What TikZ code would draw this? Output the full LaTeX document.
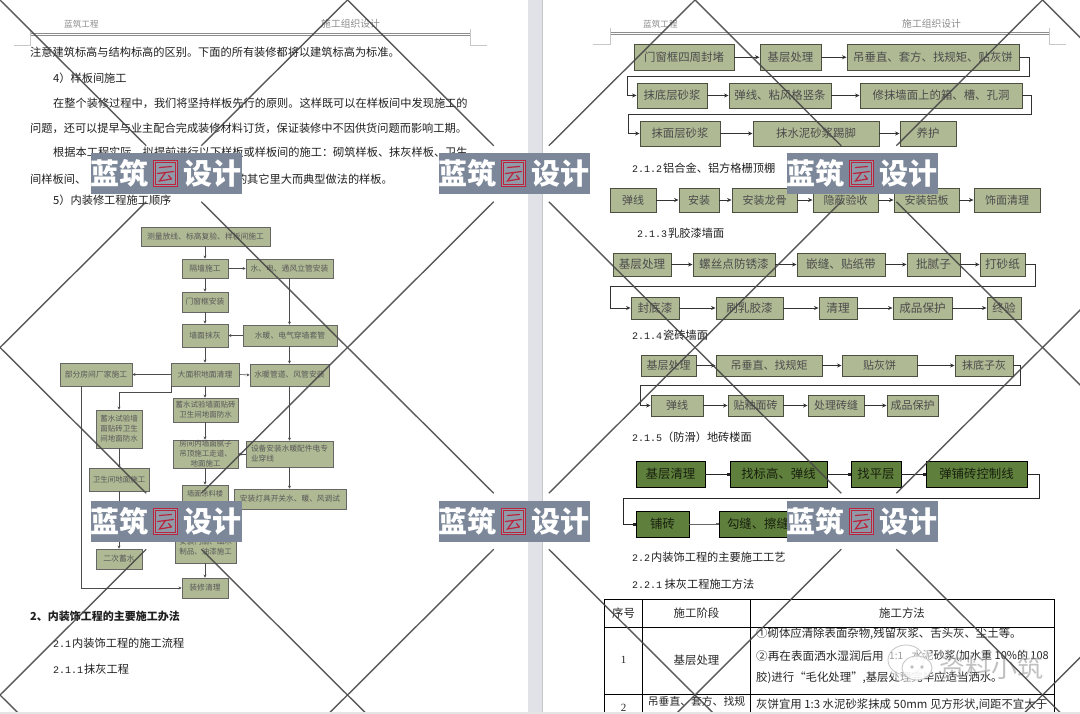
\documentclass[tikz,border=0pt]{standalone}
\usepackage{fontspec}
\setmainfont{Noto Sans CJK SC}
\newfontfamily\digitfont{Liberation Mono}
\newfontfamily\serifnum{Liberation Serif}
\usetikzlibrary{arrows.meta,calc}
\definecolor{boxfill}{HTML}{AFB994}
\definecolor{boxline}{HTML}{4A4F40}
\definecolor{greenfill}{HTML}{5F7F3C}
\definecolor{bannerfill}{HTML}{7C8899}
\definecolor{sealred}{HTML}{B8253C}
\definecolor{gutter}{HTML}{E1E2E7}
\newcommand\fs[1]{\fontsize{#1}{#1}\selectfont}
\newcommand\hnum[1]{{\digitfont\fontsize{10}{10}\selectfont #1}}
% \bx[style]{name}{x1}{y1}{x2}{y2}{size}{text}
\newcommand\bx[8][]{\node[#1,font={\fontsize{#7}{10}\selectfont},minimum width={(#5-#3)*1pt},minimum height={(#6-#4)*1pt}] (#2) at ({(#3+#5)/2},{(#4+#6)/2}) {#8};}
% banner with top-left corner x,y
\newcommand\wm[3]{%
\node[bannerbox] (#1) at (#2+75.5,#3+20.5) {};
\node[bannertext] (#1a) at (#2+14,#3+20.5) {蓝};
\node[bannertext] (#1b) at (#2+43.5,#3+20.5) {筑};
\node[bannertext] (#1d) at (#2+107.5,#3+20.5) {设};
\node[bannertext] (#1e) at (#2+136.5,#3+20.5) {计};
\node[sealbox] (#1s) at (#2+75,#3+20.5) {};
\node[sealinner] (#1i) at (#2+75,#3+20.5) {};
\draw[sealred,line width=1.2pt,line cap=round] (#2+69,#3+14.5) -- (#2+81,#3+13.5) (#2+67,#3+20.5) -- (#2+83,#3+18.5) (#2+75,#3+19.5) -- (#2+69,#3+28) -- (#2+81,#3+26) (#2+78,#3+22.5) -- (#2+81,#3+26);
}
\tikzset{
 x=1pt,y=-1pt,
 body/.style={anchor=west,inner sep=0pt,text=black!88,font=\fs{11.2}},
 headtxt/.style={anchor=west,inner sep=0pt,text=black!45},
 fbox/.style={draw=boxline,line width=0.9pt,fill=boxfill,inner sep=0pt,text=black!70,align=center},
 lbox/.style={draw=black!60,line width=0.8pt,fill=boxfill,inner sep=0pt,text=black!65,align=center},
 gbox/.style={draw=black,line width=0.9pt,fill=greenfill,inner sep=0pt,text=black!75!greenfill,align=center},
 conn/.style={draw=black!80,line width=0.7pt,-{Stealth[length=4.5pt,width=4pt]}},
 lconn/.style={draw=black!70,line width=0.6pt,-{Stealth[length=3pt,width=3pt]}},
 gconn/.style={draw=black!85,line width=0.7pt,-{Square[length=2.5pt,width=2.5pt]}},
 rule/.style={draw=black!45,line width=1pt},
 crop/.style={draw=black!22,line width=0.6pt},
 grid/.style={draw=black,line width=0.7pt},
 cell/.style={inner sep=0pt,text=black!85,font=\fs{11.4}},
 water/.style={draw=black!72,line width=1.4pt,opacity=0.9},
 bannerbox/.style={fill=bannerfill,draw=none,minimum width=151pt,minimum height=41pt,inner sep=0pt},
 bannertext/.style={inner sep=0pt,text=white,font=\bfseries\fs{29}},
 sealbox/.style={draw=sealred,line width=0.9pt,fill=bannerfill!85!white,minimum width=24pt,minimum height=26pt,inner sep=0pt},
 sealinner/.style={draw=sealred,line width=0.5pt,minimum width=20pt,minimum height=22pt,inner sep=0pt},
}
\begin{document}
\begin{tikzpicture}
\useasboundingbox (0,0) rectangle (1080,714);
\fill[white] (0,0) rectangle (1080,714);

% ---------- page headers
\node[headtxt,font=\fs{8.6}] (hl1) at (64,24) {蓝筑工程};
\node[headtxt,font=\fs{9.8}] (hl2) at (321,24) {施工组织设计};
\node[headtxt,font=\fs{8.6}] (hr1) at (643,24) {蓝筑工程};
\node[headtxt,font=\fs{9.8}] (hr2) at (902,24) {施工组织设计};
\draw[rule] (30,33.5) -- (470,33.5);
\draw[rule,line width=1.4pt] (30,35.5) -- (470,35.5);
\draw[rule] (610,32.5) -- (1049,32.5);
\draw[rule,line width=1.4pt] (610,34.5) -- (1049,34.5);
\draw[crop] (14,45) -- (30,45) -- (30,29);
\draw[crop] (487,45) -- (470,45) -- (470,29);
\draw[crop] (593,44) -- (610,44) -- (610,28);
\draw[crop] (1066,44) -- (1049,44) -- (1049,28);

% ---------- left page text
\node[body] (t1) at (30,52) {注意建筑标高与结构标高的区别。下面的所有装修都将以建筑标高为标准。};
\node[body] (t2) at (53,78) {4）样板间施工};
\node[body] (t3) at (53,103) {在整个装修过程中，我们将坚持样板先行的原则。这样既可以在样板间中发现施工的};
\node[body] (t4) at (30,128) {问题，还可以提早与业主配合完成装修材料订货，保证装修中不因供货问题而影响工期。};
\node[body] (t5) at (53,152) {根据本工程实际，拟提前进行以下样板或样板间的施工：砌筑样板、抹灰样板、卫生};
\node[body] (t6) at (30,179) {间样板间、};
\node[body,anchor=east] (t7) at (393,179) {的其它里大而典型做法的样板。};
\node[body] (t8) at (53,200) {5）内装修工程施工顺序};
\node[body,font=\bfseries\fs{11}] (t9) at (30,616) {2、内装饰工程的主要施工办法};
\node[body] (t10) at (53,643) {\hnum{2.1}\hspace{1pt}内装饰工程的施工流程};
\node[body] (t11) at (53,669) {\hnum{2.1.1}\hspace{1pt}抹灰工程};

% ---------- left flow chart
\bx[lbox]{a1}{141}{227}{270}{246}{7.8}{测量放线、标高复验、样板间施工}
\bx[lbox]{a2}{182}{259}{228}{278}{7.8}{隔墙施工}
\bx[lbox]{a3}{246}{259}{333}{278}{7.8}{水、电、通风立管安装}
\bx[lbox]{a4}{182}{292}{228}{312}{7.8}{门窗框安装}
\bx[lbox]{a5}{182}{324}{228}{347}{7.8}{墙面抹灰}
\bx[lbox]{a6}{243}{325}{337}{346}{7.8}{水暖、电气穿墙套管}
\bx[lbox]{a7}{171}{363}{239}{386}{7.8}{大面积地面清理}
\bx[lbox]{a8}{250}{364}{329}{386}{7.8}{水暖管道、风管安装}
\bx[lbox]{a9}{60}{363}{132}{386}{7.8}{部分房间厂家施工}
\bx[lbox]{a10}{173}{398}{238}{422}{7.5}{蓄水试验墙面贴砖\\卫生间地面防水}
\bx[lbox]{a11}{96}{410}{142}{448}{7.5}{蓄水试验墙\\面贴砖卫生\\间地面防水}
\bx[lbox]{a12}{89}{468}{149}{491}{7.5}{卫生间地面施工}
\bx[lbox]{a13}{173}{440}{238}{468}{7.5}{房间内墙面腻子\\吊顶施工走道、\\地面施工}
\bx[lbox,align=left]{a14}{246}{441}{333}{467}{7.7}{设备安装水暖配件电专\\业穿线}
\bx[lbox]{a15}{182}{485}{228}{530}{7.2}{}
\node[inner sep=0pt,text=black!65,font=\fs{7.2}] (a15t) at (205,494) {墙面涂料楼};
\bx[lbox]{a16}{234}{489}{346}{509}{7.7}{安装灯具开关水、暖、风调试}
\bx[lbox]{a17}{175}{530}{236}{563}{7.5}{安装门扇、细木\\制品、油漆施工}
\bx[lbox]{a18}{96}{549}{142}{569}{7.8}{二次蓄水}
\bx[lbox]{a19}{182}{578}{228}{598}{7.8}{装修清理}
\coordinate (a9out) at (81,386);
\coordinate (a7out) at (171,386);
\draw[lconn] (a1.south -| a2.north) -- (a2.north);
\draw[lconn] (a2.east) -- (a3.west);
\draw[lconn] (a2.south) -- (a4.north);
\draw[lconn] (a4.south) -- (a5.north);
\draw[lconn] (a3.south) -- (a3.south |- a6.north);
\draw[lconn] (a6.west) -- (a6.west -| a5.east);
\draw[lconn] (a5.south) -- (a5.south |- a7.north);
\draw[lconn] (a3.south |- a6.south) -- (a3.south |- a8.north);
\draw[lconn] (a7.west) -- (a9.east);
\draw[lconn] (a7.east) -- (a8.west);
\draw[lconn] (a5.south |- a7.south) -- (a5.south |- a10.north);
\draw[lconn] (a7out) -- ++(0,6) -| (a11.north);
\draw[lconn] (a9out) |- (a19.west);
\draw[lconn] (a5.south |- a10.south) -- (a5.south |- a13.north);
\draw[lconn] (a11.south) -- (a12.north);
\draw[lconn] (a12.south) -- (a18.north);
\draw[lconn] (a3.south |- a8.south) -- (a3.south |- a14.north);
\draw[lconn] (a14.west) -- (a14.west -| a13.east);
\draw[lconn] (a5.south |- a13.south) -- (a15.north);
\draw[lconn] (a3.south |- a14.south) -- (a3.south |- a16.north);
\draw[lconn] (a15.south) -- (a5.south |- a17.north);
\draw[lconn] (a5.south |- a17.south) -- (a19.north);

% ---------- right page: plaster flow
\bx[fbox]{b1}{634}{44.5}{734}{70}{11.4}{门窗框四周封堵}
\bx[fbox]{b2}{760}{44.5}{821}{70}{11.4}{基层处理}
\bx[fbox]{b3}{847}{44.5}{1019}{70}{11.4}{吊垂直、套方、找规矩、贴灰饼}
\bx[fbox]{b4}{637}{83}{707}{108}{11.4}{抹底层砂浆}
\bx[fbox]{b5}{729}{83}{831}{108}{11.4}{弹线、粘风格竖条}
\bx[fbox]{b6}{860}{83}{1022}{108}{11.4}{修抹墙面上的箱、槽、孔洞}
\bx[fbox]{b7}{640}{121}{720}{146}{11.4}{抹面层砂浆}
\bx[fbox]{b8}{753}{121}{879}{146}{11.4}{抹水泥砂浆踢脚}
\bx[fbox]{b9}{900}{121}{956}{146}{11.4}{养护}
\draw[conn] (b1) -- (b2);
\draw[conn] (b2) -- (b3);
\draw[conn] (b3.east) -- ++(10,0) |- ($(b4.west)+(-9,-19)$) |- (b4.west);
\draw[conn] (b4) -- (b5);
\draw[conn] (b5) -- (b6);
\draw[conn] (b6.east) -- ++(9,0) |- ($(b7.west)+(-11.5,-19)$) |- (b7.west);
\draw[conn] (b7) -- (b8);
\draw[conn] (b8) -- (b9);

\node[body] (h1) at (632,168) {\hnum{2.1.2}\hspace{1pt}铝合金、铝方格栅顶棚};
\bx[fbox]{c1}{610}{188}{656}{212}{11}{弹线}
\bx[fbox]{c2}{679}{188}{719}{212}{11}{安装}
\bx[fbox]{c3}{732}{188}{797}{212}{11}{安装龙骨}
\bx[fbox]{c4}{813}{188}{878}{212}{11}{隐蔽验收}
\bx[fbox]{c5}{894}{188}{959}{212}{11}{安装铝板}
\bx[fbox]{c6}{974}{188}{1040}{212}{11}{饰面清理}
\draw[conn] (c1) -- (c2);
\draw[conn] (c2) -- (c3);
\draw[conn] (c3) -- (c4);
\draw[conn] (c4) -- (c5);
\draw[conn] (c5) -- (c6);

\node[body] (h2) at (637,233) {\hnum{2.1.3}\hspace{1pt}乳胶漆墙面};
\bx[fbox]{d1}{613}{253}{671}{276}{11.6}{基层处理}
\bx[fbox]{d2}{693}{253}{775}{276}{11.6}{螺丝点防锈漆}
\bx[fbox]{d3}{797}{253}{885}{276}{11.6}{嵌缝、贴纸带}
\bx[fbox]{d4}{907}{253}{960}{276}{11.6}{批腻子}
\bx[fbox]{d5}{980}{253}{1025}{276}{11.6}{打砂纸}
\bx[fbox]{d6}{631}{297}{679}{319}{11.6}{封底漆}
\bx[fbox]{d7}{716}{297}{783}{319}{11.6}{刷乳胶漆}
\bx[fbox]{d8}{819}{297}{857}{319}{11.6}{清理}
\bx[fbox]{d9}{893}{297}{952}{319}{11.6}{成品保护}
\bx[fbox]{d10}{987}{297}{1021}{319}{11.6}{终验}
\draw[conn] (d1) -- (d2);
\draw[conn] (d2) -- (d3);
\draw[conn] (d3) -- (d4);
\draw[conn] (d4) -- (d5);
\draw[conn] (d5.east) -- ++(10,0) |- ($(d6.west)+(-20.5,-22)$) |- (d6.west);
\draw[conn] (d6) -- (d7);
\draw[conn] (d7) -- (d8);
\draw[conn] (d8) -- (d9);
\draw[conn] (d9) -- (d10);

\node[body] (h3) at (632,335) {\hnum{2.1.4}\hspace{1pt}瓷砖墙面};
\bx[fbox]{e1}{641}{355}{696}{376}{11}{基层处理}
\bx[fbox]{e2}{716}{355}{822}{376}{11}{吊垂直、找规矩}
\bx[fbox]{e3}{842}{355}{917}{376}{11}{贴灰饼}
\bx[fbox]{e4}{955}{355}{1013}{376}{11}{抹底子灰}
\bx[fbox]{e5}{651}{395}{703}{416}{11}{弹线}
\bx[fbox]{e6}{728}{395}{783}{416}{11}{贴釉面砖}
\bx[fbox]{e7}{808}{395}{864}{416}{11}{处理砖缝}
\bx[fbox]{e8}{887}{395}{938}{416}{11}{成品保护}
\draw[conn] (e1) -- (e2);
\draw[conn] (e2) -- (e3);
\draw[conn] (e3) -- (e4);
\draw[conn] (e4.east) -- ++(7,0) |- ($(e5.west)+(-10,-20)$) |- (e5.west);
\draw[conn] (e5) -- (e6);
\draw[conn] (e6) -- (e7);
\draw[conn] (e7) -- (e8);

\node[body] (h4) at (632,437) {\hnum{2.1.5}（防滑）地砖楼面};
\bx[gbox]{f1}{636}{461}{705}{487}{12.4}{基层清理}
\bx[gbox]{f2}{730}{461}{827}{487}{12.4}{找标高、弹线}
\bx[gbox]{f3}{851}{461}{901}{487}{12.4}{找平层}
\bx[gbox]{f4}{926}{461}{1027}{487}{12.4}{弹铺砖控制线}
\bx[gbox]{f5}{636}{511}{689}{537}{12.4}{铺砖}
\bx[gbox]{f6}{719}{511}{797}{537}{12.4}{勾缝、擦缝}
\draw[gconn] (f1) -- (f2);
\draw[gconn] (f2) -- (f3);
\draw[gconn] (f3) -- (f4);
\draw[gconn] (f4.east) -- ++(12,0) |- ($(f5.west)+(-12.5,-25.5)$) |- (f5.west);
\draw[gconn,draw=black!60,line width=1pt] (f5) -- (f6);

\node[body] (h5) at (632,557) {\hnum{2.2}\hspace{1pt}内装饰工程的主要施工工艺};
\node[body] (h6) at (632,584) {\hnum{2.2.1} 抹灰工程施工方法};

% ---------- table
\draw[grid] (604.3,712) -- (604.3,599.3) -- (1054.3,599.3) -- (1054.3,712);
\draw[grid] (642.7,599.3) -- (642.7,712);
\draw[grid] (750.3,599.3) -- (750.3,712);
\draw[grid] (604.3,627.3) -- (1054.3,627.3);
\draw[grid] (604.3,694) -- (1054.3,694);
\node[cell] (c11) at (623.5,613) {序号};
\node[cell] (c12) at (696.5,613) {施工阶段};
\node[cell] (c13) at (902,613) {施工方法};
\node[cell,font=\serifnum\fs{11}] (c21) at (623.5,660) {1};
\node[cell] (c22) at (696.5,660) {基层处理};
\node[cell,anchor=west] (c23) at (756,634) {①砌体应清除表面杂物,残留灰浆、舌头灰、尘土等。};
\node[cell,anchor=west,font=\fs{11.6}] (c24) at (756,656) {②再在表面洒水湿润后用};
\node[cell,anchor=west,font=\fs{10}] (c25) at (889,656) {1:1};
\node[cell,anchor=east,font=\fs{11}] (c26) at (1049,656) {水泥砂浆(加水重 10\%的 108};
\node[cell,anchor=west] (c27) at (756,678) {胶)进行“毛化处理”,基层处理完毕应适当洒水。};
\node[cell,font=\serifnum\fs{11}] (c31) at (623.5,708) {2};
\node[cell,font=\fs{10.8}] (c32) at (696.5,701) {吊垂直、套方、找规};
\node[cell,anchor=west] (c33) at (756,705) {灰饼宜用 1:3 水泥砂浆抹成 50mm 见方形状,间距不宜大于};

% ---------- account mark
\fill[white,opacity=0.55] (910,662) ellipse (24 and 20);
\draw[black!30,opacity=0.7,line width=0.9pt] (906,660) ellipse (18 and 15);
\fill[white,opacity=0.8] (917,668) ellipse (15 and 12);
\draw[black!30,opacity=0.7,line width=0.9pt] (917,668) ellipse (15 and 12);
\fill[black!25] (912,667) circle (1.8) (922,667) circle (1.8);
\node[inner sep=0pt,text=black!40,opacity=0.6,font=\fs{26}] (mark) at (991,668) {资料小筑};

% ---------- gutter
\fill[gutter] (528,0) rectangle (543,714);
\fill[black!22] (542,0) rectangle (543,714);

% ---------- diagonal watermark lines
\begin{scope}
\clip (0,0) rectangle (1080,714);
\foreach \cx in {173.75,521.25,868.75,1216.25}{
 \foreach \cy in {173.75,521.25,868.75}{
  \draw[water] (\cx-173.75,\cy-173.75) -- (\cx-27.5,\cy-28);
  \draw[water] (\cx+173.75,\cy-173.75) -- (\cx+27.5,\cy-28);
  \draw[water] (\cx-173.75,\cy+173.75) -- (\cx-27.5,\cy+28);
  \draw[water] (\cx+173.75,\cy+173.75) -- (\cx+27.5,\cy+28);
 }
}
\end{scope}
\fill[black!10] (0,712) rectangle (1080,714);

% ---------- banners
\wm{wa}{90.5}{153}
\wm{wb}{438.5}{153}
\wm{wc}{786.5}{153}
\wm{wd}{90.5}{501}
\wm{we}{438.5}{501}
\wm{wf}{786.5}{501}
\end{tikzpicture}
\end{document}
